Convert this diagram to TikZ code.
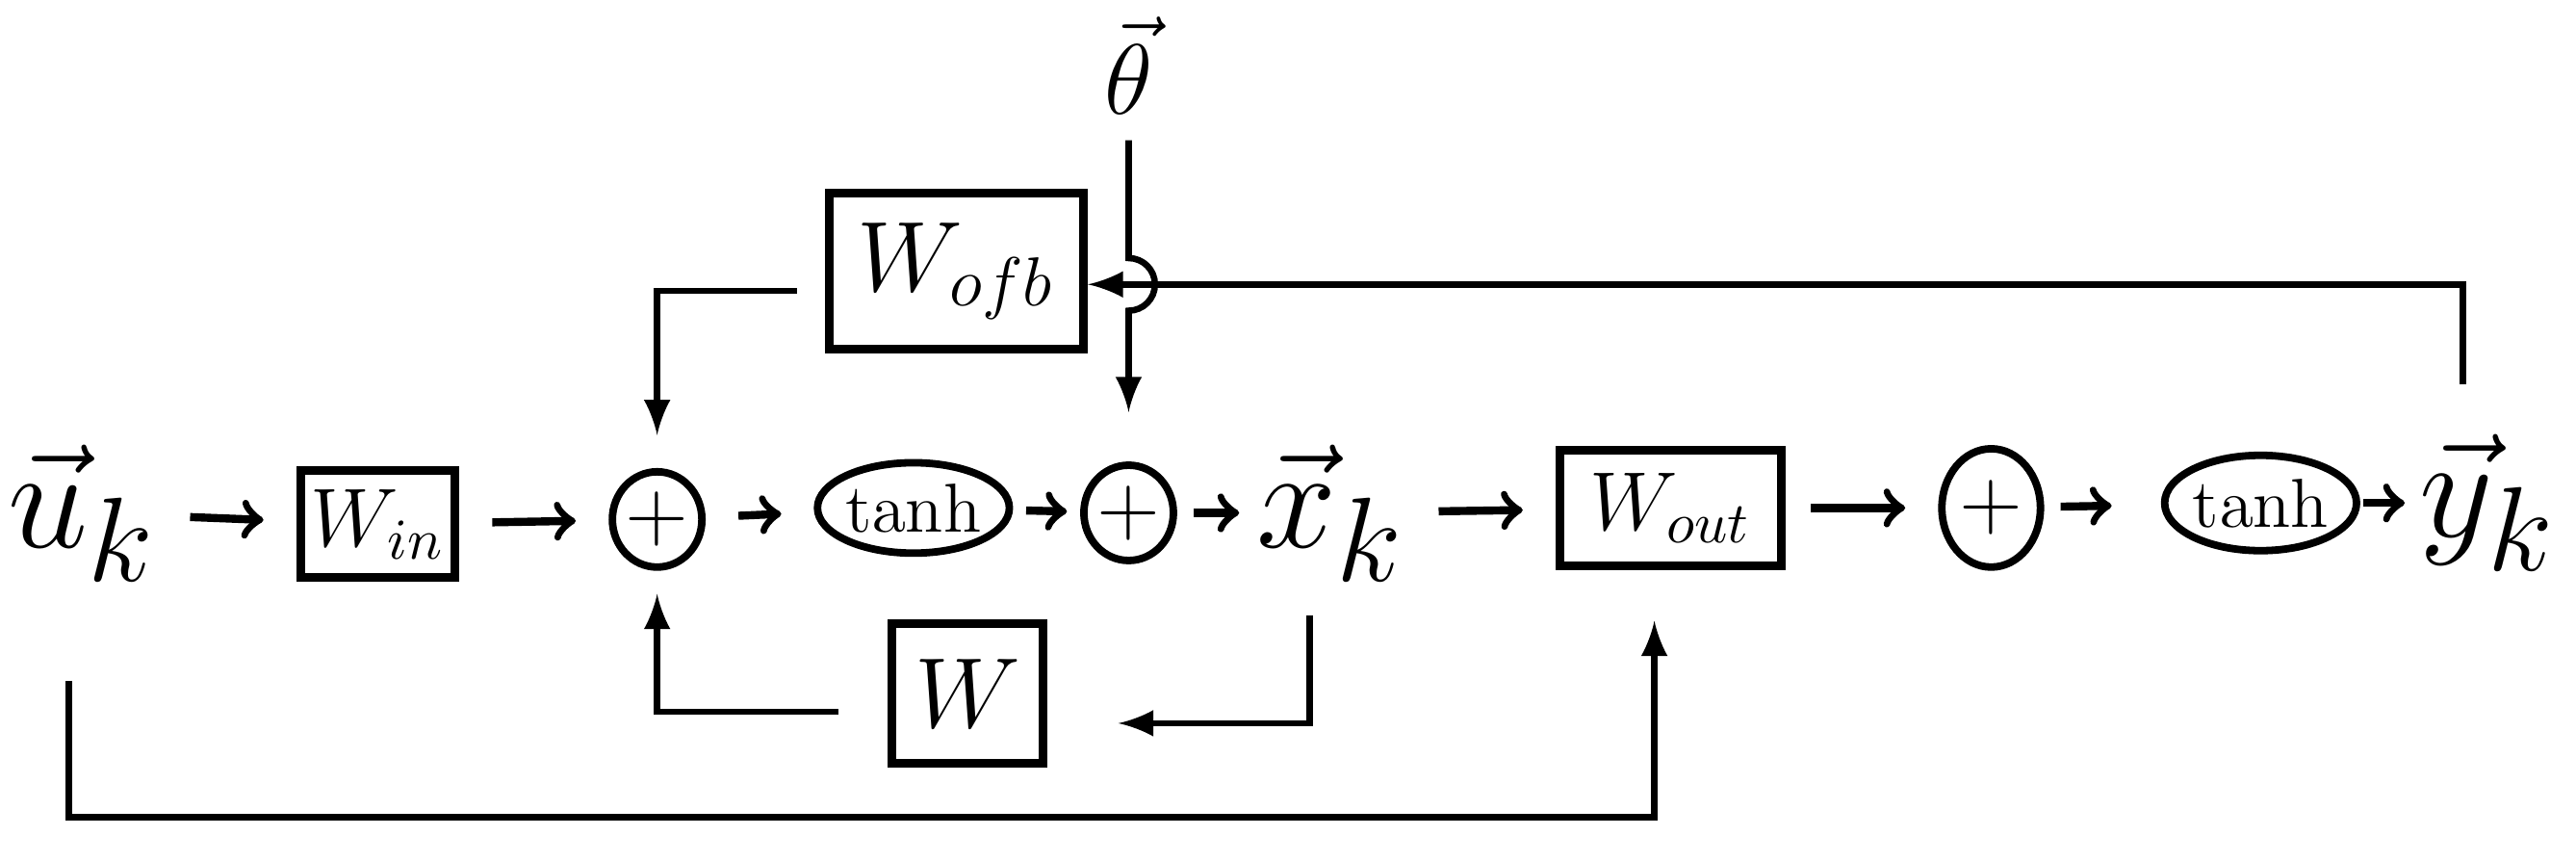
\documentclass[tikz,border=0pt]{standalone}
\usepackage{amsmath,amssymb}
\usepackage{tikz}
\usetikzlibrary{arrows,shapes,positioning}

\begin{document}
\begin{tikzpicture}[scale=1,
	box/.style={draw, line width=1.5pt, inner sep=0pt},
	sumnode/.style={draw, ellipse, line width=1.3pt, inner sep=0pt, minimum width=0.42cm, minimum height=0.58cm, font=\Large},
	actnode/.style={draw, ellipse, line width=1.3pt, inner sep=0pt, minimum width=0.92cm, minimum height=0.55cm, font=\large},
	vecnode/.style={inner sep=0pt, font=\Huge},
	fwd/.style={->, >=to, line width=1.4pt, shorten <=0.2cm, shorten >=0.2cm},
	fback/.style={->, >=latex, line width=1.1pt}
	]
	
	\useasboundingbox (0,0) rectangle (15.68,5.24);
	
	% forward chain
	\node[vecnode] (uk) at (0.50,2.12) {$\vec{u}_k$};
	\node[box, minimum width=0.94cm, minimum height=0.65cm, font=\Large] (win) at (2.30,2.05) {$W_{in}$};
	\node[sumnode] (sum1) at (4.00,2.08) {$+$};
	\node[actnode] (tanh1) at (5.56,2.15) {$\tanh$};
	\node[sumnode] (sum2) at (6.87,2.12) {$+$};
	\node[vecnode] (xk) at (8.10,2.12) {$\vec{x}_k$};
	\node[box, minimum width=1.35cm, minimum height=0.7cm, font=\Large] (wout) at (10.17,2.15) {$W_{out}$};
	\node[sumnode, minimum width=0.6cm, minimum height=0.72cm] (sum3) at (12.12,2.15) {$+$};
	\node[actnode, minimum height=0.58cm] (tanh2) at (13.76,2.18) {$\tanh$};
	\node[vecnode] (yk) at (15.14,2.18) {$\vec{y}_k$};
	
	% feedback blocks
	\node[vecnode, font=\LARGE] (theta) at (6.87,4.84) {$\vec{\theta}$};
	\node[box, minimum width=1.55cm, minimum height=0.95cm, font=\LARGE] (wofb) at (5.82,3.59) {$W_{ofb}$};
	\node[box, minimum width=0.92cm, minimum height=0.85cm, font=\LARGE] (w) at (5.89,1.02) {$W$};
	
	\draw[fwd] (uk) -- (win);
	\draw[fwd] (win) -- (sum1);
	\draw[fwd] (sum1) -- (tanh1);
	\draw[fwd, shorten <=0.08cm, shorten >=0.08cm] (tanh1) -- (sum2);
	\draw[fwd, shorten <=0.1cm, shorten >=0.1cm] (sum2) -- (xk);
	\draw[fwd] (xk) -- (wout);
	\draw[fwd, shorten <=0.15cm] (wout) -- (sum3);
	\draw[fwd, shorten <=0.1cm, shorten >=0.3cm] (sum3) -- (tanh2);
	\draw[fwd, shorten <=0.02cm, shorten >=0.08cm] (tanh2) -- (yk);
	
	% output feedback, theta hops over it
	\coordinate (hop) at (6.87,3.51);
	\draw[fback] ([xshift=-0.15cm, yshift=0.3cm]yk.north) |- ([yshift=-0.08cm]wofb.east);
	\draw[fback, shorten <=0.15cm] (theta.south) -- ([yshift=0.16cm]hop)
		arc[start angle=90, end angle=-90, radius=0.16] -- ([yshift=0.3cm]sum2.north);
	\draw[fback] ([xshift=-0.17cm, yshift=-0.12cm]wofb.west) -| ([yshift=0.2cm]sum1.north);
	
	% reservoir loop
	\draw[fback] ([xshift=-0.13cm, yshift=-0.2cm]xk.south) |- ([xshift=0.43cm, yshift=-0.18cm]w.east);
	\draw[fback] ([xshift=-0.3cm, yshift=-0.11cm]w.west) -| ([yshift=-0.14cm]sum1.south);
	
	% direct input to readout
	\coordinate (bot) at (0,0.27);
	\draw[fback] ([xshift=-0.08cm, yshift=-0.6cm]uk.south) -- ([xshift=-0.08cm]uk.south |- bot) -| ([xshift=-0.1cm, yshift=-0.31cm]wout.south);
	
\end{tikzpicture}
\end{document}
